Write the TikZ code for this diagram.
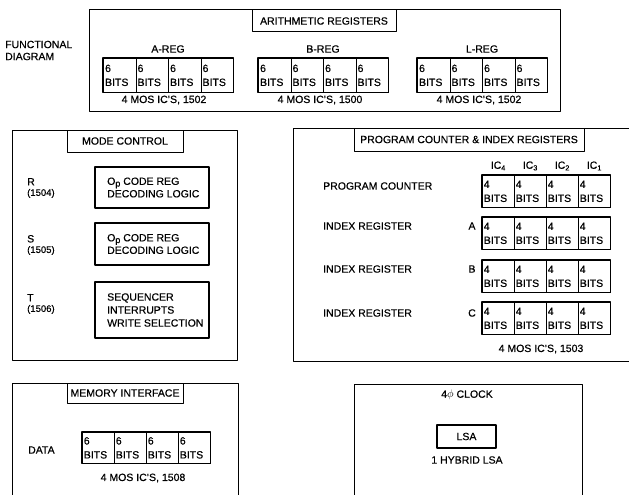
\documentclass[tikz,border=0pt]{standalone}
\usepackage{fontspec}
\setmainfont[FakeBold=0.5]{Liberation Sans}
\usetikzlibrary{positioning}

\tikzset{
  frame/.style={line width=1pt},
  tabbox/.style={draw,line width=1pt,inner sep=0pt},
  bitcell/.style={draw,line width=0.7pt,anchor=north west,inner xsep=1.5pt,inner ysep=0pt,
    text width=29pt,align=left,font=\fontsize{10.5}{14}\selectfont},
  regframe/.style={line width=1.4pt},
  opbox/.style={draw,line width=1.2pt,minimum width=114pt,inner sep=0pt},
  lines/.style={align=left,anchor=west,inner sep=0pt,font=\fontsize{10.5}{12.5}\selectfont},
  chip/.style={align=left,anchor=west,inner sep=0pt,font=\fontsize{10.5}{10.5}\selectfont}
}

\newcommand{\opcode}{O{\fontsize{9}{9}\selectfont\raisebox{-0.35ex}{p}}}

\begin{document}
\begin{tikzpicture}[x=1pt,y=-1pt,line cap=round,line join=round,
  every node/.append style={font=\fontsize{10.5}{12}\selectfont}]
  \useasboundingbox (0,0) rectangle (629,495);

  % arithmetic registers
  \node[align=left,anchor=west,inner sep=0pt] (fdiag) at (5,50.5) {FUNCTIONAL\\DIAGRAM};
  \draw[frame] (89,10) rectangle (560,111);
  \node[tabbox,minimum width=144pt,minimum height=22pt] (arith) at (324,21) {ARITHMETIC REGISTERS};
  \foreach \r/\x/\n in {a/103/A-REG,b/258/B-REG,l/417/L-REG} {
    \node (\r name) at ({\x+65},49) {\n};
    \foreach \i in {1,...,4}
      \node[bitcell,minimum width=32.5pt,minimum height=34pt] (\r\i) at ({\x+32.5*(\i-1)},58) {6\\BITS};
    \draw[regframe] (\r1.north west) rectangle (\r4.south east);
  }
  \node (acap) at (164,100) {4 MOS IC'S, 1502};
  \node (bcap) at (320,100) {4 MOS IC'S, 1500};
  \node (lcap) at (479,100) {4 MOS IC'S, 1502};

  % mode control
  \draw[frame] (12,130) rectangle (237,360);
  \node[tabbox,minimum width=116pt,minimum height=22pt] (mode) at (125,141) {MODE CONTROL};
  \node[opbox,minimum height=41pt] (rbox) at (152,187.5) {};
  \node[opbox,minimum height=42pt] (sbox) at (152,244) {};
  \node[opbox,minimum height=56pt] (tbox) at (152,310) {};
  \node[lines] (rtext) at (107,187.5) {\opcode\ CODE REG\\DECODING LOGIC};
  \node[lines] (stext) at (107,244) {\opcode\ CODE REG\\DECODING LOGIC};
  \node[lines,font=\fontsize{10.5}{13}\selectfont] (ttext) at (107,310) {SEQUENCER\\INTERRUPTS\\WRITE SELECTION};
  \node[chip] (rlab) at (27,188) {R\\{\fontsize{9.5}{9.5}\selectfont(1504)}};
  \node[chip] (slab) at (27,245) {S\\{\fontsize{9.5}{9.5}\selectfont(1505)}};
  \node[chip] (tlab) at (27,304) {T\\{\fontsize{9.5}{9.5}\selectfont(1506)}};

  % program counter & index registers
  \draw[frame] (629,128) -- (293,128) -- (293,361) -- (629,361);
  \node[tabbox,minimum width=230pt,minimum height=23pt] (pcir) at (469,139.5) {PROGRAM COUNTER \& INDEX REGISTERS};
  \foreach \r/\y in {pc/175,ra/217,rb/260,rc/302} {
    \foreach \i in {1,...,4}
      \node[bitcell,minimum width=32pt,minimum height=32pt] (\r\i) at ({482+32*(\i-1)},\y) {4\\BITS};
    \draw[regframe] (\r1.north west) rectangle (\r4.south east);
  }
  \foreach \i/\n in {1/4,2/3,3/2,4/1}
    \node[above=1pt of pc\i.north] (ic\n) {IC\textsubscript{\n}};
  \node[anchor=west,inner sep=0pt] (pclab) at (323,186) {PROGRAM COUNTER};
  \node[anchor=west,inner sep=0pt] (ialab) at (323,226) {INDEX REGISTER};
  \node[anchor=west,inner sep=0pt] (iblab) at (323,269) {INDEX REGISTER};
  \node[anchor=west,inner sep=0pt] (iclab) at (323,313) {INDEX REGISTER};
  \node (ra) at (472,226) {A};
  \node (rb) at (472,269) {B};
  \node (rc) at (472,313) {C};
  \node (pccap) at (541,349) {4 MOS IC'S, 1503};

  % memory interface
  \draw[frame] (12,495) -- (12,383) -- (238,383) -- (238,495);
  \node[tabbox,minimum width=116pt,minimum height=20pt] (mem) at (125,393) {MEMORY INTERFACE};
  \node[anchor=west,inner sep=0pt] (data) at (28,450) {DATA};
  \foreach \i in {1,...,4}
    \node[bitcell,minimum width=32pt,minimum height=31pt] (m\i) at ({82+32*(\i-1)},432) {6\\BITS};
  \draw[regframe] (m1.north west) rectangle (m4.south east);
  \node (mcap) at (143,478) {4 MOS IC'S, 1508};

  % clock
  \draw[frame] (354,495) -- (354,384) -- (582,384) -- (582,495);
  \node (clock) at (467,395) {4$\phi$ CLOCK};
  \node[draw,line width=1.2pt,minimum width=59pt,minimum height=23pt] (lsa) at (466.5,436.5) {LSA};
  \node (hyb) at (467,460) {1 HYBRID LSA};
\end{tikzpicture}
\end{document}
